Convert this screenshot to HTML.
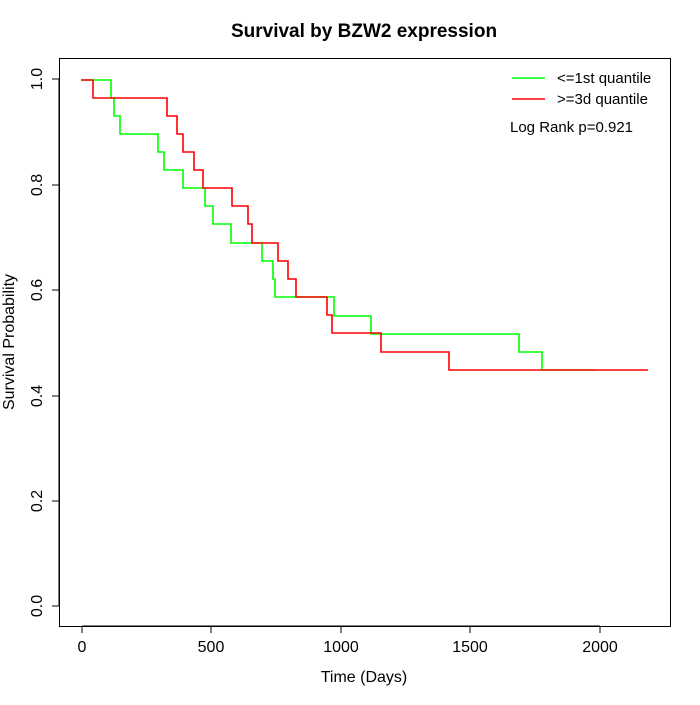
<!DOCTYPE html>
<html><head><style>body{margin:0;background:#fff}</style></head><body>
<svg width="700" height="700" xmlns="http://www.w3.org/2000/svg" font-family="Liberation Sans, sans-serif">
<rect width="700" height="700" fill="#fff"/>
<text x="364" y="37" text-anchor="middle" font-weight="bold" font-size="19">Survival by BZW2 expression</text>
<rect x="59.5" y="58.5" width="611" height="568" fill="none" stroke="#000"/>
<g stroke="#000">
<line x1="82" y1="626" x2="600" y2="626"/>
<line x1="82" y1="626" x2="82" y2="633"/><line x1="211" y1="626" x2="211" y2="633"/><line x1="341" y1="626" x2="341" y2="633"/><line x1="470" y1="626" x2="470" y2="633"/><line x1="600" y1="626" x2="600" y2="633"/>
<line x1="59" y1="79" x2="59" y2="606"/>
<line x1="52" y1="79" x2="59" y2="79"/><line x1="52" y1="185" x2="59" y2="185"/><line x1="52" y1="290" x2="59" y2="290"/><line x1="52" y1="396" x2="59" y2="396"/><line x1="52" y1="501" x2="59" y2="501"/><line x1="52" y1="606" x2="59" y2="606"/>
</g>
<g font-size="16" text-anchor="middle">
<text x="82" y="652">0</text><text x="211" y="652">500</text><text x="341" y="652">1000</text><text x="470" y="652">1500</text><text x="600" y="652">2000</text>
<text x="364" y="682">Time (Days)</text>
<g transform="translate(42,0)">
<text transform="translate(0,79) rotate(-90)">1.0</text>
<text transform="translate(0,185) rotate(-90)">0.8</text>
<text transform="translate(0,290) rotate(-90)">0.6</text>
<text transform="translate(0,396) rotate(-90)">0.4</text>
<text transform="translate(0,501) rotate(-90)">0.2</text>
<text transform="translate(0,606) rotate(-90)">0.0</text>
</g>
<text transform="translate(14,342) rotate(-90)">Survival Probability</text>
</g>
<polyline fill="none" stroke="#00ff00" stroke-width="1.6" points="81,80 111,80 111,98 114,98 114,116 120,116 120,134 158,134 158,152 164,152 164,170 183,170 183,188 205,188 205,206 213,206 213,224 231,224 231,243 262,243 262,261 273,261 273,279 275,279 275,297 334,297 334,316 371,316 371,334 519,334 519,352 542,352 542,370 595,370"/>
<polyline fill="none" stroke="#ff0000" stroke-width="1.6" points="81,80 93,80 93,98 167,98 167,116 177,116 177,134 183,134 183,152 194,152 194,170 203,170 203,188 232,188 232,206 248,206 248,224 252,224 252,243 278,243 278,261 288,261 288,279 296,279 296,297 327,297 327,315 332,315 332,333 381,333 381,352 449,352 449,370 648,370"/>
<line x1="512" y1="78" x2="545" y2="78" stroke="#00ff00" stroke-width="1.6"/>
<line x1="512" y1="99" x2="545" y2="99" stroke="#ff0000" stroke-width="1.6"/>
<g font-size="15">
<text x="557" y="83">&lt;=1st quantile</text>
<text x="557" y="104">&gt;=3d quantile</text>
<text x="510" y="132">Log Rank p=0.921</text>
</g>
</svg>
</body></html>
